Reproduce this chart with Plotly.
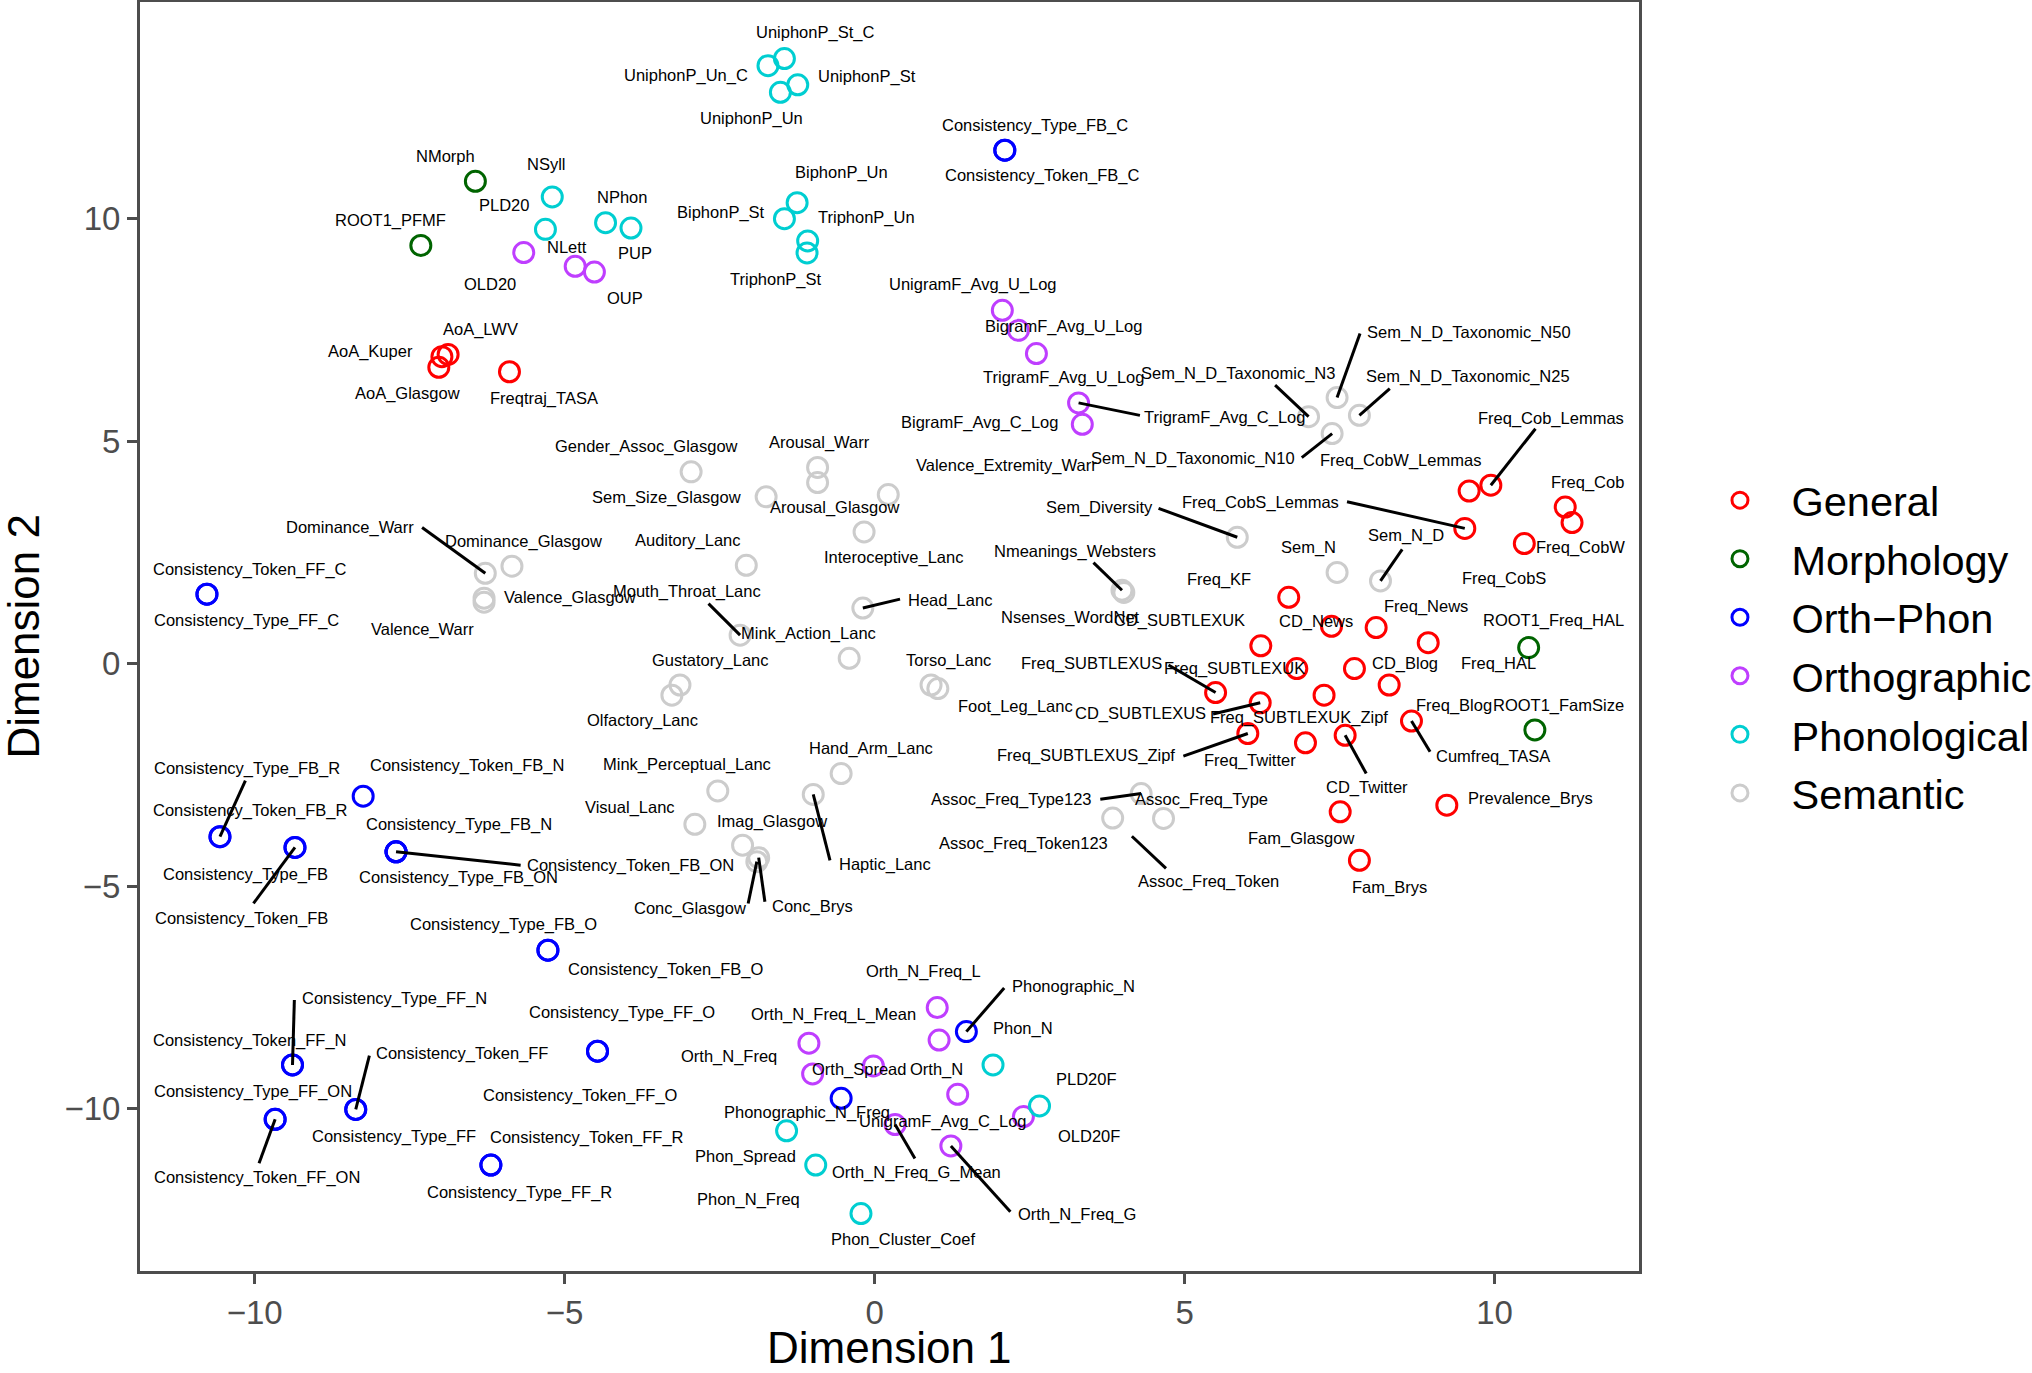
import plotly.graph_objects as go

# ---------------- data ----------------
variables = [
    # General
    "AoA_LWV", "AoA_Kuper", "AoA_Glasgow", "Freqtraj_TASA",
    "Freq_Cob_Lemmas", "Freq_CobW_Lemmas", "Freq_CobS_Lemmas", "Freq_Cob", "Freq_CobW", "Freq_CobS",
    "Freq_KF", "CD_News", "Freq_News", "Freq_HAL", "CD_SUBTLEXUK", "Freq_SUBTLEXUK", "CD_Blog",
    "Freq_Blog", "Freq_SUBTLEXUS", "CD_SUBTLEXUS", "Freq_SUBTLEXUK_Zipf", "Cumfreq_TASA",
    "Freq_SUBTLEXUS_Zipf", "Freq_Twitter", "CD_Twitter", "Prevalence_Brys", "Fam_Glasgow", "Fam_Brys",
    # Morphology
    "NMorph", "ROOT1_PFMF", "ROOT1_Freq_HAL", "ROOT1_FamSize",
    # Orth-Phon
    "Consistency_Type_FB_C", "Consistency_Token_FB_C", "Consistency_Token_FF_C", "Consistency_Type_FF_C",
    "Consistency_Token_FB_N", "Consistency_Type_FB_R", "Consistency_Token_FB_R", "Consistency_Type_FB",
    "Consistency_Token_FB", "Consistency_Type_FB_N", "Consistency_Token_FB_ON", "Consistency_Type_FB_ON",
    "Consistency_Type_FB_O", "Consistency_Token_FB_O", "Consistency_Type_FF_N", "Consistency_Token_FF_N",
    "Consistency_Type_FF_ON", "Consistency_Token_FF_ON", "Consistency_Token_FF", "Consistency_Type_FF",
    "Consistency_Type_FF_O", "Consistency_Token_FF_O", "Consistency_Token_FF_R", "Consistency_Type_FF_R",
    "Phonographic_N", "Phonographic_N_Freq",
    # Orthographic
    "OLD20", "NLett", "OUP", "UnigramF_Avg_U_Log", "BigramF_Avg_U_Log", "TrigramF_Avg_U_Log",
    "TrigramF_Avg_C_Log", "BigramF_Avg_C_Log", "Orth_N_Freq_L", "Orth_N_Freq_L_Mean", "Orth_N_Freq",
    "Orth_Spread", "UnigramF_Avg_C_Log", "Orth_N", "Orth_N_Freq_G_Mean", "Orth_N_Freq_G", "OLD20F",
    # Phonological
    "UniphonP_St_C", "UniphonP_Un_C", "UniphonP_St", "UniphonP_Un", "BiphonP_Un", "BiphonP_St",
    "TriphonP_Un", "TriphonP_St", "NSyll", "PLD20", "NPhon", "PUP", "Phon_N", "PLD20F",
    "Phon_Spread", "Phon_N_Freq", "Phon_Cluster_Coef",
    # Semantic
    "Gender_Assoc_Glasgow", "Arousal_Warr", "Arousal_Glasgow", "Valence_Extremity_Warr",
    "Sem_Size_Glasgow", "Interoceptive_Lanc", "Auditory_Lanc", "Mouth_Throat_Lanc", "Mink_Action_Lanc",
    "Head_Lanc", "Gustatory_Lanc", "Olfactory_Lanc", "Torso_Lanc", "Foot_Leg_Lanc", "Hand_Arm_Lanc",
    "Mink_Perceptual_Lanc", "Haptic_Lanc", "Visual_Lanc", "Imag_Glasgow", "Conc_Glasgow", "Conc_Brys",
    "Dominance_Warr", "Dominance_Glasgow", "Valence_Glasgow", "Valence_Warr", "Nmeanings_Websters",
    "Nsenses_WordNet", "Sem_Diversity", "Sem_N", "Sem_N_D", "Sem_N_D_Taxonomic_N50",
    "Sem_N_D_Taxonomic_N3", "Sem_N_D_Taxonomic_N25", "Sem_N_D_Taxonomic_N10",
    "Assoc_Freq_Type123", "Assoc_Freq_Type", "Assoc_Freq_Token123", "Assoc_Freq_Token",
]

dim1 = [
    -6.88, -6.98, -7.03, -5.89,
    9.94, 9.59, 9.52, 11.14, 11.25, 10.48,
    6.68, 7.37, 8.09, 8.93, 6.23, 6.81, 7.74,
    8.30, 5.50, 6.22, 7.25, 8.66,
    6.02, 6.95, 7.59, 9.23, 7.51, 7.82,
    -6.44, -7.32, 10.55, 10.65,
    2.10, 2.10, -10.77, -10.77,
    -8.25, -10.56, -10.56, -9.35,
    -9.35, -7.72, -7.72, -7.72,
    -5.27, -5.27, -9.39, -9.39,
    -9.67, -9.67, -8.37, -8.37,
    -4.47, -4.47, -6.19, -6.19,
    1.48, -0.54,
    -5.66, -4.83, -4.52, 2.06, 2.32, 2.61,
    3.29, 3.35, 1.01, 1.04, -1.06,
    -1.00, -0.02, 1.34, 0.33, 1.23, 2.40,
    -1.455, -1.72, -1.24, -1.52, -1.25, -1.455,
    -1.08, -1.09, -5.20, -5.31, -4.34, -3.93, 1.91, 2.66,
    -1.42, -0.95, -0.22,
    -2.96, -0.92, -0.92, 0.22,
    -1.75, -0.17, -2.07, -2.17, -0.41,
    -0.19, -3.14, -3.27, 0.91, 1.02, -0.54,
    -2.53, -0.99, -2.90, -2.13, -1.90, -1.87,
    -6.28, -5.85, -6.30, -6.30, 3.99,
    4.02, 5.85, 7.46, 8.16, 7.46,
    7.00, 7.82, 7.38,
    4.30, 4.66, 3.84, 4.15,
]

dim2 = [
    6.95, 6.90, 6.66, 6.56,
    4.01, 3.88, 3.04, 3.52, 3.17, 2.70,
    1.49, 0.84, 0.81, 0.47, 0.40, -0.11, -0.11,
    -0.48, -0.65, -0.88, -0.71, -1.29,
    -1.57, -1.78, -1.61, -3.18, -3.33, -4.42,
    10.84, 9.40, 0.36, -1.49,
    11.54, 11.54, 1.56, 1.56,
    -2.98, -3.89, -3.89, -4.13,
    -4.13, -4.23, -4.23, -4.23,
    -6.44, -6.44, -9.02, -9.02,
    -10.24, -10.24, -10.02, -10.02,
    -8.71, -8.71, -11.27, -11.27,
    -8.27, -9.77,
    9.24, 8.93, 8.80, 7.94, 7.49, 6.97,
    5.86, 5.38, -7.73, -8.46, -8.53,
    -9.22, -9.04, -9.68, -10.36, -10.84, -10.18,
    13.60, 13.44, 13.01, 12.84, 10.36, 10.00,
    9.50, 9.23, 10.49, 9.76, 9.91, 9.79, -9.02, -9.94,
    -10.50, -11.27, -12.36,
    4.31, 4.41, 4.07, 3.80,
    3.75, 2.96, 2.21, 0.64, 0.12,
    1.25, -0.48, -0.71, -0.48, -0.56, -2.47,
    -2.86, -2.94, -3.61, -4.08, -4.45, -4.36,
    2.03, 2.19, 1.47, 1.38, 1.65,
    1.60, 2.84, 2.05, 1.86, 5.98,
    5.55, 5.58, 5.17,
    -2.92, -3.48, -3.47, -3.88,
]

group = (["General"] * 28 + ["Morphology"] * 4 + ["Orth-Phon"] * 26 +
         ["Orthographic"] * 17 + ["Phonological"] * 17 + ["Semantic"] * 37)

group_order = ["General", "Morphology", "Orth-Phon", "Orthographic", "Phonological", "Semantic"]
legend_names = ["General", "Morphology", "Orth\u2212Phon", "Orthographic", "Phonological", "Semantic"]

axis_ticks = [-10, -5, 0, 5, 10]
x_title = "Dimension 1"
y_title = "Dimension 2"

# ---------------- styles / layout tables ----------------
group_colors = {
    "General": "#FF0000", "Morphology": "#006400", "Orth-Phon": "#0000FF",
    "Orthographic": "#BF3EFF", "Phonological": "#00CED1", "Semantic": "#CCCCCC",
}

# repelled label positions (data units)
label_pos = {
    "AoA_LWV": (-6.36, 7.52), "AoA_Kuper": (-8.13, 7.02), "AoA_Glasgow": (-7.53, 6.07),
    "Freqtraj_TASA": (-5.34, 5.97), "Freq_Cob_Lemmas": (10.91, 5.52), "Freq_CobW_Lemmas": (8.48, 4.57),
    "Freq_CobS_Lemmas": (6.23, 3.62), "Freq_Cob": (11.50, 4.07), "Freq_CobW": (11.38, 2.60),
    "Freq_CobS": (10.16, 1.91), "Freq_KF": (5.56, 1.90), "CD_News": (7.12, 0.94),
    "Freq_News": (8.90, 1.28), "Freq_HAL": (10.07, 0.00), "CD_SUBTLEXUK": (4.92, 0.96),
    "Freq_SUBTLEXUK": (5.81, -0.11), "CD_Blog": (8.56, 0.00), "Freq_Blog": (9.34, -0.93),
    "Freq_SUBTLEXUS": (3.50, 0.00), "CD_SUBTLEXUS": (4.29, -1.13), "Freq_SUBTLEXUK_Zipf": (6.84, -1.21),
    "Cumfreq_TASA": (9.98, -2.08), "Freq_SUBTLEXUS_Zipf": (3.41, -2.07), "Freq_Twitter": (6.06, -2.17),
    "CD_Twitter": (7.95, -2.78), "Prevalence_Brys": (10.58, -3.04), "Fam_Glasgow": (6.87, -3.93),
    "Fam_Brys": (8.30, -5.02),
    "NMorph": (-6.93, 11.41), "ROOT1_PFMF": (-7.81, 9.97), "ROOT1_Freq_HAL": (10.95, 0.96),
    "ROOT1_FamSize": (11.03, -0.95),
    "Consistency_Type_FB_C": (2.59, 12.10), "Consistency_Token_FB_C": (2.71, 10.96),
    "Consistency_Token_FF_C": (-10.07, 2.12), "Consistency_Type_FF_C": (-10.14, 0.98),
    "Consistency_Token_FB_N": (-6.58, -2.30), "Consistency_Type_FB_R": (-10.13, -2.36),
    "Consistency_Token_FB_R": (-10.06, -3.29), "Consistency_Type_FB": (-10.15, -4.73),
    "Consistency_Token_FB": (-10.22, -5.73), "Consistency_Type_FB_N": (-6.71, -3.61),
    "Consistency_Token_FB_ON": (-3.93, -4.54), "Consistency_Type_FB_ON": (-6.72, -4.81),
    "Consistency_Type_FB_O": (-5.99, -5.86), "Consistency_Token_FB_O": (-3.36, -6.87),
    "Consistency_Type_FF_N": (-7.75, -7.52), "Consistency_Token_FF_N": (-10.07, -8.46),
    "Consistency_Type_FF_ON": (-10.03, -9.61), "Consistency_Token_FF_ON": (-9.96, -11.55),
    "Consistency_Token_FF": (-6.66, -8.76), "Consistency_Type_FF": (-7.76, -10.62),
    "Consistency_Type_FF_O": (-4.07, -7.83), "Consistency_Token_FF_O": (-4.74, -9.70),
    "Consistency_Token_FF_R": (-4.64, -10.66), "Consistency_Type_FF_R": (-5.73, -11.88),
    "Phonographic_N": (3.21, -7.25), "Phonographic_N_Freq": (-1.09, -10.09),
    "OLD20": (-6.20, 8.54), "NLett": (-4.96, 9.37), "OUP": (-4.02, 8.22),
    "UnigramF_Avg_U_Log": (1.58, 8.51), "BigramF_Avg_U_Log": (3.04, 7.57),
    "TrigramF_Avg_U_Log": (3.05, 6.42), "TrigramF_Avg_C_Log": (5.65, 5.53),
    "BigramF_Avg_C_Log": (1.69, 5.42), "Orth_N_Freq_L": (0.79, -6.93),
    "Orth_N_Freq_L_Mean": (-0.66, -7.88), "Orth_N_Freq": (-2.35, -8.82), "Orth_Spread": (-0.26, -9.13),
    "UnigramF_Avg_C_Log": (1.11, -10.30), "Orth_N": (1.00, -9.13),
    "Orth_N_Freq_G_Mean": (0.68, -11.44), "Orth_N_Freq_G": (3.27, -12.37), "OLD20F": (3.46, -10.62),
    "UniphonP_St_C": (-0.96, 14.18), "UniphonP_Un_C": (-3.05, 13.22), "UniphonP_St": (-0.13, 13.20),
    "UniphonP_Un": (-1.98, 12.25), "BiphonP_Un": (-0.54, 11.03), "BiphonP_St": (-2.48, 10.14),
    "TriphonP_Un": (-0.13, 10.03), "TriphonP_St": (-1.59, 8.64), "NSyll": (-5.29, 11.24),
    "PLD20": (-5.98, 10.30), "NPhon": (-4.08, 10.48), "PUP": (-3.86, 9.23), "Phon_N": (2.40, -8.20),
    "PLD20F": (3.41, -9.34), "Phon_Spread": (-2.09, -11.07), "Phon_N_Freq": (-2.04, -12.04),
    "Phon_Cluster_Coef": (0.45, -12.94),
    "Gender_Assoc_Glasgow": (-3.68, 4.89), "Arousal_Warr": (-0.89, 4.96), "Arousal_Glasgow": (-0.65, 3.51),
    "Valence_Extremity_Warr": (2.13, 4.46), "Sem_Size_Glasgow": (-3.36, 3.73),
    "Interoceptive_Lanc": (0.31, 2.38), "Auditory_Lanc": (-3.01, 2.77), "Mouth_Throat_Lanc": (-3.03, 1.63),
    "Mink_Action_Lanc": (-1.07, 0.68), "Head_Lanc": (1.21, 1.43), "Gustatory_Lanc": (-2.66, 0.06),
    "Olfactory_Lanc": (-3.74, -1.28), "Torso_Lanc": (1.19, 0.08), "Foot_Leg_Lanc": (2.28, -0.97),
    "Hand_Arm_Lanc": (-0.06, -1.91), "Mink_Perceptual_Lanc": (-3.03, -2.27), "Haptic_Lanc": (0.16, -4.51),
    "Visual_Lanc": (-3.95, -3.23), "Imag_Glasgow": (-1.66, -3.54), "Conc_Glasgow": (-2.98, -5.50),
    "Conc_Brys": (-1.00, -5.45), "Dominance_Warr": (-8.46, 3.07), "Dominance_Glasgow": (-5.66, 2.75),
    "Valence_Glasgow": (-4.91, 1.48), "Valence_Warr": (-7.29, 0.77), "Nmeanings_Websters": (3.23, 2.53),
    "Nsenses_WordNet": (3.16, 1.03), "Sem_Diversity": (3.62, 3.52), "Sem_N": (7.00, 2.62),
    "Sem_N_D": (8.57, 2.87), "Sem_N_D_Taxonomic_N50": (9.58, 7.44), "Sem_N_D_Taxonomic_N3": (5.86, 6.52),
    "Sem_N_D_Taxonomic_N25": (9.57, 6.46), "Sem_N_D_Taxonomic_N10": (5.13, 4.60),
    "Assoc_Freq_Type123": (2.21, -3.05), "Assoc_Freq_Type": (5.27, -3.06),
    "Assoc_Freq_Token123": (2.40, -4.04), "Assoc_Freq_Token": (5.38, -4.89),
}

# where the repel segment meets its label (data units)
segment_end = {
    "TrigramF_Avg_C_Log": (4.28, 5.58), "Sem_N_D_Taxonomic_N50": (7.83, 7.42),
    "Sem_N_D_Taxonomic_N3": (6.46, 6.26), "Sem_N_D_Taxonomic_N25": (8.31, 6.18),
    "Sem_N_D_Taxonomic_N10": (6.89, 4.63), "Freq_Cob_Lemmas": (10.66, 5.28),
    "Freq_CobS_Lemmas": (7.62, 3.64), "Sem_Diversity": (4.58, 3.49), "Sem_N_D": (8.51, 2.57),
    "Freq_SUBTLEXUS": (4.74, -0.03), "CD_SUBTLEXUS": (5.46, -1.13), "Freq_SUBTLEXUS_Zipf": (4.98, -2.08),
    "Cumfreq_TASA": (8.96, -1.98), "CD_Twitter": (7.93, -2.47), "Assoc_Freq_Token": (4.70, -4.60),
    "Assoc_Freq_Type123": (3.64, -3.05), "Dominance_Warr": (-7.30, 3.06),
    "Mouth_Throat_Lanc": (-2.68, 1.35), "Head_Lanc": (0.41, 1.45), "Nmeanings_Websters": (3.53, 2.27),
    "Haptic_Lanc": (-0.72, -4.42), "Conc_Glasgow": (-2.04, -5.39), "Conc_Brys": (-1.77, -5.35),
    "Consistency_Type_FB_R": (-10.15, -2.63), "Consistency_Token_FB_ON": (-5.71, -4.53),
    "Consistency_Token_FB": (-10.02, -5.39), "Consistency_Type_FF_N": (-9.36, -7.56),
    "Consistency_Token_FF": (-8.15, -8.81), "Consistency_Token_FF_ON": (-9.93, -11.23),
    "Phonographic_N": (2.09, -7.29), "Orth_N_Freq_G_Mean": (0.65, -11.12),
    "Orth_N_Freq_G": (2.19, -12.32),
}

FONT = "Liberation Sans, Arial, Helvetica, sans-serif"
AXIS_GREY = "#4D4D4D"

fig = go.Figure()

# points, one trace per category
for g, lname in zip(group_order, legend_names):
    idx = [i for i, gg in enumerate(group) if gg == g]
    fig.add_trace(go.Scatter(
        x=[dim1[i] for i in idx], y=[dim2[i] for i in idx],
        mode="markers", name=lname, legendgroup=g, text=[variables[i] for i in idx],
        hovertemplate="%{text}<extra></extra>",
        marker=dict(symbol="circle-open", size=20, color=group_colors[g], line=dict(width=3)),
    ))

# label segments
seg_x, seg_y = [], []
for i, v in enumerate(variables):
    if v in segment_end:
        sx, sy = segment_end[v]
        seg_x += [dim1[i], sx, None]
        seg_y += [dim2[i], sy, None]
fig.add_trace(go.Scatter(x=seg_x, y=seg_y, mode="lines", line=dict(color="black", width=3),
                         showlegend=False, hoverinfo="skip"))

# labels
annotations = []
for v in variables:
    lx, ly = label_pos[v]
    annotations.append(dict(x=lx, y=ly, xref="x", yref="y", text=v, showarrow=False,
                            xanchor="center", yanchor="middle",
                            font=dict(family=FONT, size=16.5, color="black")))

# axis titles placed like ggplot's (closer to the figure edge than plotly's margins allow)
annotations.append(dict(x=-0.078, y=0.5, xref="paper", yref="paper", text=y_title, showarrow=False,
                        textangle=-90, xanchor="center", yanchor="middle",
                        font=dict(family=FONT, size=44, color="black")))
annotations.append(dict(x=0.5, y=-0.06, xref="paper", yref="paper", text=x_title, showarrow=False,
                        xanchor="center", yanchor="middle",
                        font=dict(family=FONT, size=44, color="black")))

axis_common = dict(
    showgrid=False, zeroline=False, showline=True, mirror=True, automargin=False,
    linecolor=AXIS_GREY, linewidth=3, ticks="outside", ticklen=10, tickwidth=3,
    tickcolor=AXIS_GREY, tickfont=dict(family=FONT, size=33, color=AXIS_GREY),
    tickvals=axis_ticks,
)

fig.update_layout(
    width=2032, height=1373,
    margin=dict(l=140, r=393, t=2, b=102, autoexpand=False),
    paper_bgcolor="white", plot_bgcolor="white",
    font=dict(family=FONT, color="black"),
    annotations=annotations,
    legend=dict(x=1.033, y=0.492, xanchor="left", yanchor="middle",
                font=dict(family=FONT, size=41.5, color="black"),
                bgcolor="rgba(0,0,0,0)", itemsizing="trace", itemwidth=93,
                traceorder="grouped", tracegroupgap=1.6),
    xaxis=dict(range=[-11.85, 12.33], **axis_common),
    yaxis=dict(range=[-13.65, 14.87], **axis_common),
)

fig.write_html("out.html", config={"displayModeBar": False},
               post_script="document.body.style.margin='0';document.body.style.overflow='hidden';")
